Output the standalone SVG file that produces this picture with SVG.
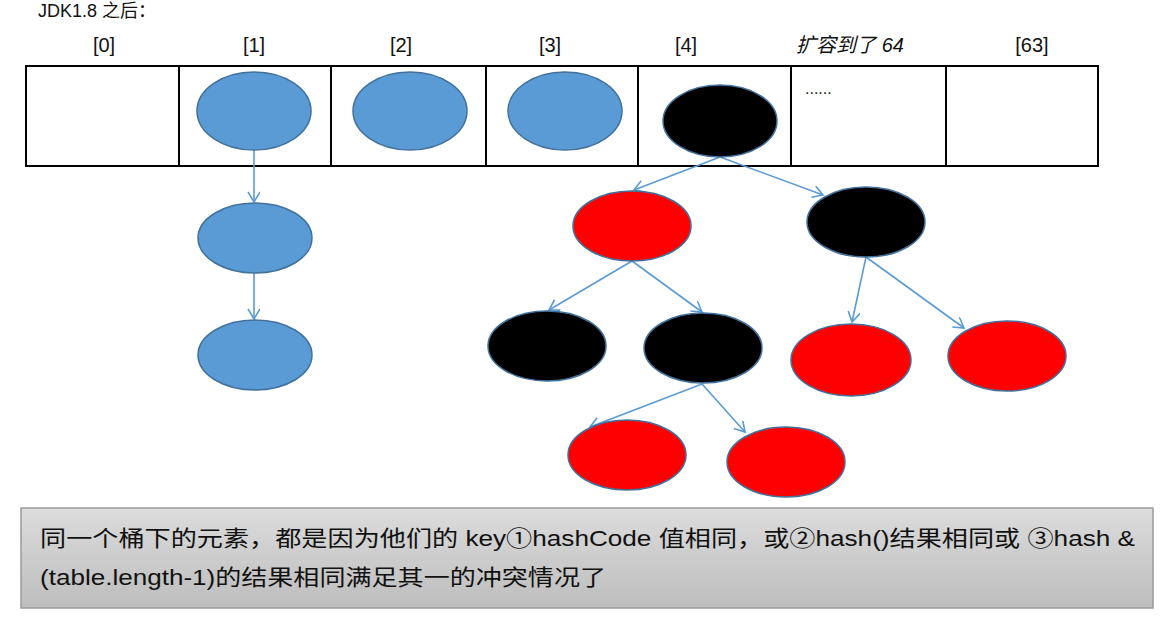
<svg xmlns="http://www.w3.org/2000/svg" width="1163" height="619" viewBox="0 0 1163 619">
<style>
.lbl{font-family:"Liberation Sans","Noto Sans CJK SC",sans-serif;font-size:20px;fill:#111;text-anchor:middle}
.blue{fill:#5b9bd5;stroke:#41719c;stroke-width:1.5}
.red{fill:#ff0000;stroke:#41719c;stroke-width:1.5}
.blk{fill:#000;stroke:#41719c;stroke-width:1.5}
.cell{fill:#fff;stroke:#000;stroke-width:2}
.con{stroke:#5b9bd5;stroke-width:1.6;fill:none;marker-end:url(#arr)}
.note{font-family:"Liberation Sans","Noto Sans CJK SC",sans-serif;font-size:22px;fill:#111}
</style>
<defs>
<marker id="arr" markerWidth="14" markerHeight="14" refX="11" refY="6" orient="auto" markerUnits="userSpaceOnUse">
<path d="M1,0 L11,6 L1,12" fill="none" stroke="#5b9bd5" stroke-width="1.6"/>
</marker>
<linearGradient id="g" x1="0" y1="0" x2="0" y2="1">
<stop offset="0" stop-color="#dcdcdc"/>
<stop offset="1" stop-color="#bdbdbd"/>
</linearGradient>
</defs>
<rect width="1163" height="619" fill="#fff"/>
<text x="38" y="17" style="font-family:'Liberation Sans','Noto Sans CJK SC',sans-serif;font-size:18px;fill:#111">JDK1.8 之后：</text>
<g id="labels">
<text class="lbl" x="104" y="52">[0]</text>
<text class="lbl" x="254" y="52">[1]</text>
<text class="lbl" x="401" y="52">[2]</text>
<text class="lbl" x="550" y="52">[3]</text>
<text class="lbl" x="686" y="52">[4]</text>
<text class="lbl" x="850" y="52" font-style="italic" font-size="21">扩容到了 64</text>
<text class="lbl" x="1032" y="52">[63]</text>
</g>
<g id="table">
<rect class="cell" x="26" y="66" width="153" height="100"/>
<rect class="cell" x="179" y="66" width="152" height="100"/>
<rect class="cell" x="331" y="66" width="155" height="100"/>
<rect class="cell" x="486" y="66" width="152" height="100"/>
<rect class="cell" x="638" y="66" width="153" height="100"/>
<rect class="cell" x="791" y="66" width="155" height="100"/>
<rect class="cell" x="946" y="66" width="152" height="100"/>
<text x="805" y="94" style="font-family:'Liberation Sans',sans-serif;font-size:16px;fill:#222">......</text>
</g>
<g id="connectors">
<line class="con" x1="254" y1="150" x2="254" y2="202"/>
<line class="con" x1="254" y1="273" x2="254" y2="319"/>
<line class="con" x1="720" y1="157" x2="634" y2="190"/>
<line class="con" x1="720" y1="157" x2="823" y2="195"/>
<line class="con" x1="632" y1="261" x2="549" y2="310"/>
<line class="con" x1="632" y1="261" x2="702" y2="312"/>
<line class="con" x1="866" y1="257" x2="852" y2="322"/>
<line class="con" x1="866" y1="257" x2="964" y2="328"/>
<line class="con" x1="702" y1="384" x2="590" y2="427"/>
<line class="con" x1="702" y1="384" x2="745" y2="432"/>
</g>
<g id="n1"><ellipse class="blue" cx="254" cy="111" rx="57" ry="39"/></g>
<g id="n2"><ellipse class="blue" cx="410" cy="111" rx="57" ry="39"/></g>
<g id="n3"><ellipse class="blue" cx="565" cy="111" rx="57" ry="39"/></g>
<g id="n4"><ellipse class="blk" cx="720" cy="121" rx="57" ry="36"/></g>
<g id="b2"><ellipse class="blue" cx="255" cy="238" rx="57" ry="35"/></g>
<g id="b3"><ellipse class="blue" cx="255" cy="355" rx="57" ry="35"/></g>
<g id="t1"><ellipse class="red" cx="632" cy="226" rx="59" ry="35"/></g>
<g id="t2"><ellipse class="blk" cx="866" cy="222" rx="59" ry="35"/></g>
<g id="t3"><ellipse class="blk" cx="547" cy="346" rx="59" ry="35"/></g>
<g id="t4"><ellipse class="blk" cx="703" cy="348" rx="59" ry="35"/></g>
<g id="t5"><ellipse class="red" cx="851" cy="360" rx="60" ry="36"/></g>
<g id="t6"><ellipse class="red" cx="1007" cy="356" rx="59" ry="35"/></g>
<g id="t7"><ellipse class="red" cx="627" cy="455" rx="59" ry="35"/></g>
<g id="t8"><ellipse class="red" cx="786" cy="462" rx="59" ry="35"/></g>
<g id="note">
<rect x="21" y="508" width="1132" height="100" fill="url(#g)" stroke="#9a9a9a" stroke-width="1.5"/>
<text class="note" x="40" y="546" textLength="1095" lengthAdjust="spacingAndGlyphs">同一个桶下的元素，都是因为他们的 key①hashCode 值相同，或②hash()结果相同或  ③hash &amp;</text>
<text class="note" x="40" y="585" textLength="566" lengthAdjust="spacingAndGlyphs">(table.length-1)的结果相同满足其一的冲突情况了</text>
</g>
</svg>
